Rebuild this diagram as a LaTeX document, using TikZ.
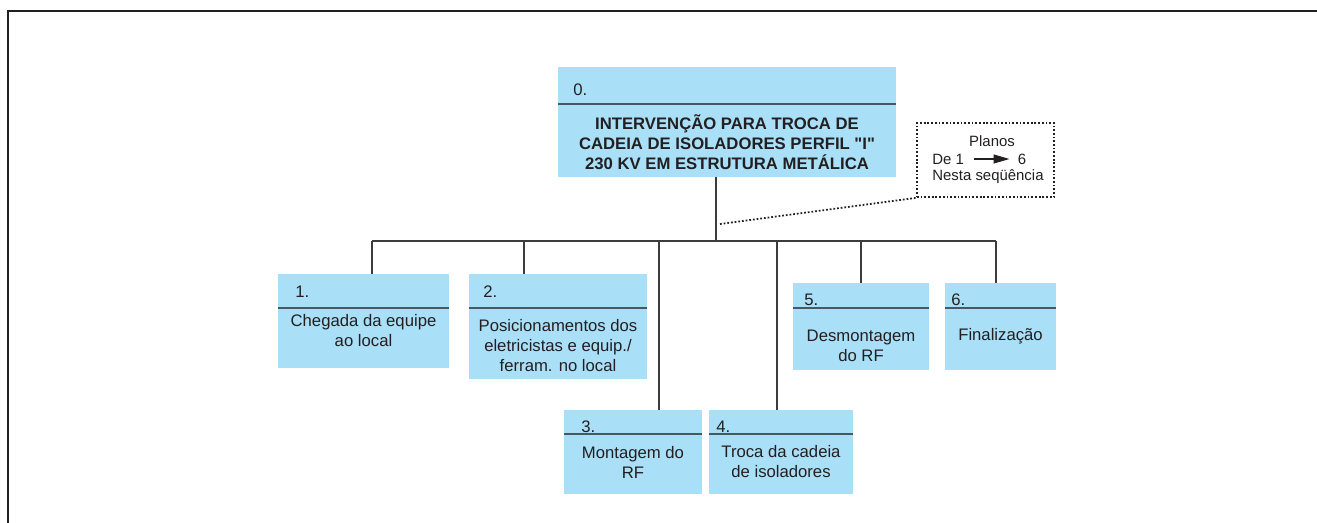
\documentclass[tikz,border=0pt]{standalone}
\usepackage{fontspec}
\setmainfont{Liberation Sans}[Ligatures=TeXOff]
\usetikzlibrary{arrows.meta}
\definecolor{boxblue}{RGB}{170,223,248}
\definecolor{inkgray}{RGB}{35,31,32}
\definecolor{linegray}{RGB}{60,60,60}
\definecolor{sepgray}{RGB}{72,88,96}

\begin{document}
\begin{tikzpicture}[x=0.02cm, y=-0.02cm,
    wbs/.style={fill=boxblue, inner sep=0pt},
    num/.style={anchor=west, inner sep=0pt, text=inkgray, font=\fontsize{9.5}{11.4}\selectfont},
    desc/.style={align=center, inner sep=0pt, text=inkgray, font=\fontsize{9.5}{11.4}\selectfont},
    sep/.style={draw=sepgray, line width=1pt},
    tree/.style={draw=linegray, line width=0.95pt},
    callout/.style={draw=inkgray, line width=1pt, dash pattern=on 1pt off 1.1pt},
    small/.style={inner sep=0pt, text=inkgray, font=\fontsize{8.5}{10}\selectfont}]

    \useasboundingbox (0,0) rectangle (1317,523);
    \draw[line width=1.4pt, draw=inkgray] (1317,11) -| (8,523);

    \node[wbs, minimum width=6.76cm, minimum height=2.2cm] (b0) at (727,122) {};
    \node[wbs, minimum width=3.42cm, minimum height=1.88cm] (b1) at (363.5,321) {};
    \node[wbs, minimum width=3.56cm, minimum height=2.1cm] (b2) at (558,326.5) {};
    \node[wbs, minimum width=2.76cm, minimum height=1.68cm] (b3) at (633,452) {};
    \node[wbs, minimum width=2.88cm, minimum height=1.68cm] (b4) at (781,452) {};
    \node[wbs, minimum width=2.72cm, minimum height=1.74cm] (b5) at (861,326.5) {};
    \node[wbs, minimum width=2.22cm, minimum height=1.74cm] (b6) at (1000.5,326.5) {};

    \draw[sep] ([yshift=-0.74cm]b0.north west) -- ([yshift=-0.74cm]b0.north east);
    \draw[sep] ([yshift=-0.68cm]b1.north west) -- ([yshift=-0.68cm]b1.north east);
    \draw[sep] ([yshift=-0.68cm]b2.north west) -- ([yshift=-0.68cm]b2.north east);
    \draw[sep] ([yshift=-0.48cm]b3.north west) -- ([yshift=-0.48cm]b3.north east);
    \draw[sep] ([yshift=-0.48cm]b4.north west) -- ([yshift=-0.48cm]b4.north east);
    \draw[sep] ([yshift=-0.5cm]b5.north west) -- ([yshift=-0.5cm]b5.north east);
    \draw[sep] ([yshift=-0.5cm]b6.north west) -- ([yshift=-0.5cm]b6.north east);

    \node[num] (n0) at (573,90) {0.};
    \node[num] (n1) at (295,292) {1.};
    \node[num] (n2) at (483,292) {2.};
    \node[num] (n3) at (581,427) {3.};
    \node[num] (n4) at (716,427) {4.};
    \node[num] (n5) at (804,300) {5.};
    \node[num] (n6) at (951,300) {6.};

    \node[desc, font=\fontsize{9.5}{11.4}\bfseries] (t0) at (727,142)
        {INTERVENÇÃO PARA TROCA DE\\CADEIA DE ISOLADORES PERFIL "I"\\230 KV EM ESTRUTURA METÁLICA};
    \node[desc] (t1) at (363.5,331) {Chegada da equipe\\ao local};
    \node[desc] (t2) at (558,345.5) {Posicionamentos dos\\eletricistas e equip./\\ferram. no local};
    \node[desc] (t3) at (633,462) {Montagem do\\RF};
    \node[desc] (t4) at (781,462) {Troca da cadeia\\de isoladores};
    \node[desc] (t5) at (861,346) {Desmontagem\\do RF};
    \node[desc] (t6) at (1000.5,336) {Finalização};

    \node[callout, minimum width=2.74cm, minimum height=1.48cm, inner sep=0pt] (note) at (985.5,160) {};
    \node[small] (plan) at (992,141) {Planos};
    \node[small, anchor=west] (de) at (932,159) {De 1};
    \node[small] (six) at (1022,159) {6};
    \node[small, anchor=west] (seq) at (932,177) {Nesta seqüência};
    \draw[draw=inkgray, line width=0.6pt, -{Triangle[length=0.32cm, width=0.18cm]},
        shorten <=0.2cm, shorten >=0.16cm] (de) -- (six);

    \coordinate (j0) at (716,241);
    \coordinate (d1) at (372,241);
    \coordinate (d2) at (524,241);
    \coordinate (d3) at (659,241);
    \coordinate (d4) at (777,241);
    \coordinate (d5) at (861,241);
    \coordinate (d6) at (996,241);
    \coordinate (c0) at (720,224);

    \draw[tree] (j0 |- b0.south) -- (j0);
    \draw[tree] (d1) -- (d6);
    \draw[tree] (d1) -- (d1 |- b1.north);
    \draw[tree] (d2) -- (d2 |- b2.north);
    \draw[tree] (d3) -- (d3 |- b3.north);
    \draw[tree] (d4) -- (d4 |- b4.north);
    \draw[tree] (d5) -- (d5 |- b5.north);
    \draw[tree] (d6) -- (d6 |- b6.north);
    \draw[callout] (c0) -- (note.south west);

\end{tikzpicture}
\end{document}
